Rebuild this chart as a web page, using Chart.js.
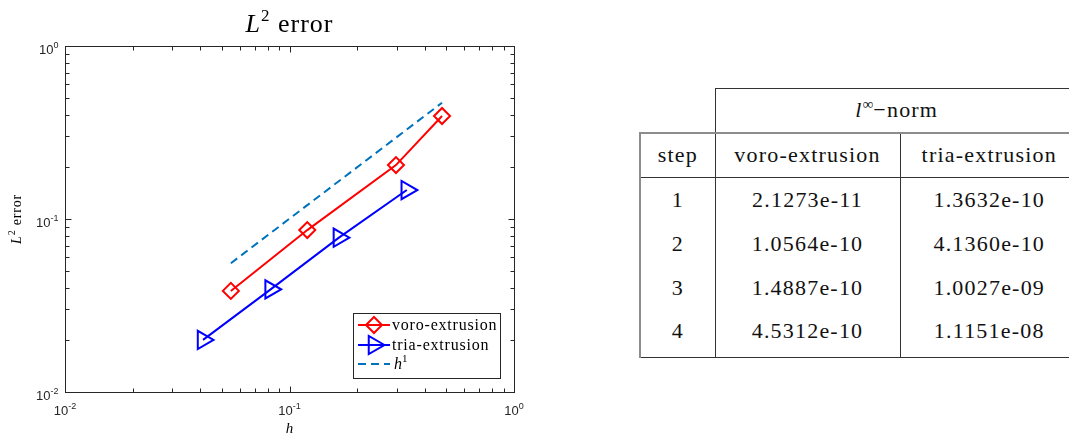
<!DOCTYPE html>
<html><head><meta charset="utf-8">
<script src="https://cdn.jsdelivr.net/npm/chart.js@4.4.1/dist/chart.umd.min.js"></script>
<style>
html,body{margin:0;padding:0;background:#fff;width:1069px;height:439px;overflow:hidden;position:relative;}
#wrap{position:absolute;left:0;top:0;width:560px;height:439px;}
#tbl{position:absolute;left:639px;top:88px;border-collapse:collapse;table-layout:fixed;width:438px;
  font-family:"Liberation Serif","Times New Roman",serif;font-size:22px;letter-spacing:1.2px;color:#111;}
#tbl td{text-align:center;padding:0;white-space:nowrap;}
#tbl sup{font-size:15px;vertical-align:8px;line-height:0;letter-spacing:0;}
</style></head>
<body>
<div id="wrap"><canvas id="c" width="560" height="439"></canvas></div>
<table id="tbl"><colgroup><col style="width:75px"><col style="width:185px"><col style="width:178px"></colgroup><tbody id="tb"></tbody></table>
<script>
// ---- data ----
const hVoro   = [0.0548, 0.120, 0.298, 0.478];
const errVoro = [0.0384, 0.0863, 0.205, 0.394];
const hTria   = [0.0412, 0.0824, 0.166, 0.333];
const errTria = [0.0200, 0.0392, 0.078, 0.147];
const hRef    = [0.0548, 0.478];
const errRef  = [0.0555, 0.470];
const seriesNames = ['voro-extrusion', 'tria-extrusion', 'h'];
const decadeTicks = [0.01, 0.1, 1];
const decadeExps  = ['-2', '-1', '0'];
const steps    = ['1', '2', '3', '4'];
const voroLinf = ['2.1273e-11', '1.0564e-10', '1.4887e-10', '4.5312e-10'];
const triaLinf = ['1.3632e-10', '4.1360e-10', '1.0027e-09', '1.1151e-08'];

// ---- table ----
(function(){
  const tb = document.getElementById('tb');
  const B = '1px solid #333', G = '2px solid #8c8c8c';
  let tr = document.createElement('tr'); tr.style.height = '44px';
  let td = document.createElement('td'); tr.appendChild(td);
  td = document.createElement('td'); td.colSpan = 2; td.style.borderTop = B; td.style.borderLeft = B;
  td.innerHTML = '<i>l</i><sup>∞</sup>−norm'; tr.appendChild(td); tb.appendChild(tr);
  tr = document.createElement('tr'); tr.style.height = '45px';
  ['step', seriesNames[0], seriesNames[1]].forEach((t, i) => {
    const c = document.createElement('td'); c.textContent = t;
    c.style.borderTop = G; c.style.borderBottom = B;
    c.style.borderLeft = i === 0 ? G : B;
    tr.appendChild(c);
  });
  tb.appendChild(tr);
  steps.forEach((s, r) => {
    const row = document.createElement('tr'); row.style.height = (r === 3 ? 48 : 44) + 'px';
    [s, voroLinf[r], triaLinf[r]].forEach((t, i) => {
      const c = document.createElement('td'); c.textContent = t;
      c.style.borderLeft = i === 0 ? G : B;
      if (r === 3) { c.style.borderBottom = B; c.style.paddingBottom = '4px'; }
      row.appendChild(c);
    });
    tb.appendChild(row);
  });
})();

// ---- chart ----
const SERIF = '"Liberation Serif","Times New Roman",serif';
const SANS = '"Liberation Sans",Arial,sans-serif';
function rich(ctx, parts, x, y, align) {
  let w = 0;
  parts.forEach(p => { ctx.font = p.f; ctx.letterSpacing = p.ls || '0px'; p.w = ctx.measureText(p.t).width; w += p.w; });
  let cx = align === 'center' ? x - w / 2 : align === 'right' ? x - w : x;
  parts.forEach(p => { ctx.font = p.f; ctx.letterSpacing = p.ls || '0px'; ctx.fillText(p.t, cx, y + (p.dy || 0)); cx += p.w; });
  ctx.letterSpacing = '0px';
}
function diamond(ctx, x, y, r) {
  ctx.beginPath(); ctx.moveTo(x, y - r); ctx.lineTo(x + r, y); ctx.lineTo(x, y + r); ctx.lineTo(x - r, y); ctx.closePath(); ctx.stroke();
}
function triR(ctx, x, y, r) {
  ctx.beginPath(); ctx.moveTo(x + r, y);
  ctx.lineTo(x - r / 2, y - r * Math.sqrt(3) / 2); ctx.lineTo(x - r / 2, y + r * Math.sqrt(3) / 2); ctx.closePath(); ctx.stroke();
}

const axesPlugin = {
  id: 'matlabAxes',
  beforeDatasetsDraw(chart) {
    const { ctx, chartArea: a, scales: { x, y } } = chart;
    ctx.save();
    ctx.strokeStyle = '#262626'; ctx.lineWidth = 1;
    const L = Math.round(a.left) + 0.5, R = Math.round(a.right) + 0.5, T = Math.round(a.top) + 0.5, Bt = Math.round(a.bottom) + 0.5;
    ctx.beginPath();
    const vals = [];
    for (let d = 0; d < decadeTicks.length - 1; d++) for (let k = 1; k <= 9; k++) vals.push([decadeTicks[d] * k, k === 1]);
    vals.push([decadeTicks[decadeTicks.length - 1], true]);
    vals.forEach(([v, major]) => {
      const len = major ? 6 : 4;
      const px = Math.round(x.getPixelForValue(v)) + 0.5;
      ctx.moveTo(px, Bt); ctx.lineTo(px, Bt - len);
      ctx.moveTo(px, T); ctx.lineTo(px, T + len);
      const py = Math.round(y.getPixelForValue(v)) + 0.5;
      ctx.moveTo(L, py); ctx.lineTo(L + len, py);
      ctx.moveTo(R, py); ctx.lineTo(R - len, py);
    });
    ctx.stroke();
    ctx.strokeRect(L, T, R - L, Bt - T);
    ctx.restore();
  },
  afterDraw(chart) {
    const { ctx, chartArea: a, scales: { x, y } } = chart;
    ctx.save();
    ctx.textAlign = 'left'; ctx.textBaseline = 'alphabetic';
    // tick labels
    ctx.fillStyle = '#262626';
    decadeTicks.forEach((v, i) => {
      const py = y.getPixelForValue(v);
      rich(ctx, [{ t: '10', f: '13px ' + SANS }, { t: decadeExps[i], f: '9px ' + SANS, dy: -6 }], 58.5, py + 7.5, 'right');
      const px = x.getPixelForValue(v);
      rich(ctx, [{ t: '10', f: '13px ' + SANS }, { t: decadeExps[i], f: '9px ' + SANS, dy: -6 }], px, 415, 'center');
    });
    // title
    ctx.fillStyle = '#000';
    const cxm = (a.left + a.right) / 2;
    rich(ctx, [{ t: 'L', f: 'italic 26px ' + SERIF, ls: '1px' }, { t: '2', f: '17px ' + SERIF, dy: -11, ls: '1px' }, { t: ' error', f: '26px ' + SERIF, ls: '1px' }], cxm, 32, 'center');
    // x label
    rich(ctx, [{ t: 'h', f: 'italic 15px ' + SERIF }], cxm, 433, 'center');
    // y label
    ctx.save();
    ctx.translate(16, (a.top + a.bottom) / 2);
    ctx.rotate(-Math.PI / 2);
    rich(ctx, [{ t: 'L', f: 'italic 14px ' + SERIF, ls: '0.8px' }, { t: '2', f: '10px ' + SERIF, dy: -6, ls: '0.8px' }, { t: ' error', f: '14px ' + SERIF, ls: '0.8px' }], 0, 5, 'center');
    ctx.restore();
    // legend
    const lx = 353.5, ly = 313.5, lw = 147, lh = 65;
    ctx.fillStyle = '#fff'; ctx.fillRect(lx, ly, lw, lh);
    ctx.strokeStyle = '#262626'; ctx.lineWidth = 1; ctx.strokeRect(lx, ly, lw, lh);
    const ds = chart.data.datasets;
    const rows = [325, 345, 364];
    ds.forEach((d, i) => {
      const ry = rows[i];
      ctx.strokeStyle = d.borderColor; ctx.lineWidth = 2;
      ctx.setLineDash(d.borderDash || []);
      ctx.beginPath(); ctx.moveTo(358, ry); ctx.lineTo(390, ry); ctx.stroke();
      ctx.setLineDash([]);
      if (d.pointStyle === 'rectRot') diamond(ctx, 374, ry, d.pointRadius);
      if (d.pointStyle === 'triangle') triR(ctx, 374, ry, d.pointRadius);
      ctx.fillStyle = '#000';
      if (i < 2) rich(ctx, [{ t: d.label, f: '16px ' + SERIF, ls: '0.8px' }], 392, ry + 5, 'left');
      else rich(ctx, [{ t: d.label, f: 'italic 16px ' + SERIF }, { t: '1', f: '11px ' + SERIF, dy: -7 }], 394, ry + 5, 'left');
    });
    ctx.restore();
  }
};

const pts = (xs, ys) => xs.map((v, i) => ({ x: v, y: ys[i] }));
new Chart(document.getElementById('c'), {
  type: 'scatter',
  data: {
    datasets: [
      { label: seriesNames[0], data: pts(hVoro, errVoro), showLine: true, borderColor: '#ff0000', borderWidth: 2,
        pointStyle: 'rectRot', pointRadius: 8, pointBorderWidth: 2, pointBorderColor: '#ff0000', pointBackgroundColor: 'rgba(0,0,0,0)' },
      { label: seriesNames[1], data: pts(hTria, errTria), showLine: true, borderColor: '#0000ff', borderWidth: 2,
        pointStyle: 'triangle', pointRotation: 90, pointRadius: 10.5, pointBorderWidth: 2, pointBorderColor: '#0000ff', pointBackgroundColor: 'rgba(0,0,0,0)' },
      { label: seriesNames[2], data: pts(hRef, errRef), showLine: true, borderColor: '#0072BD', borderWidth: 2,
        borderDash: [8, 5], pointRadius: 0 }
    ]
  },
  options: {
    responsive: false, animation: false, devicePixelRatio: 1,
    layout: { padding: { left: 65, top: 46, right: 46, bottom: 47 } },
    plugins: { legend: { display: false }, title: { display: false }, tooltip: { enabled: false } },
    scales: {
      x: { type: 'logarithmic', min: 0.01, max: 1, display: false },
      y: { type: 'logarithmic', min: 0.01, max: 1, display: false }
    }
  },
  plugins: [axesPlugin]
});
</script>
</body></html>
